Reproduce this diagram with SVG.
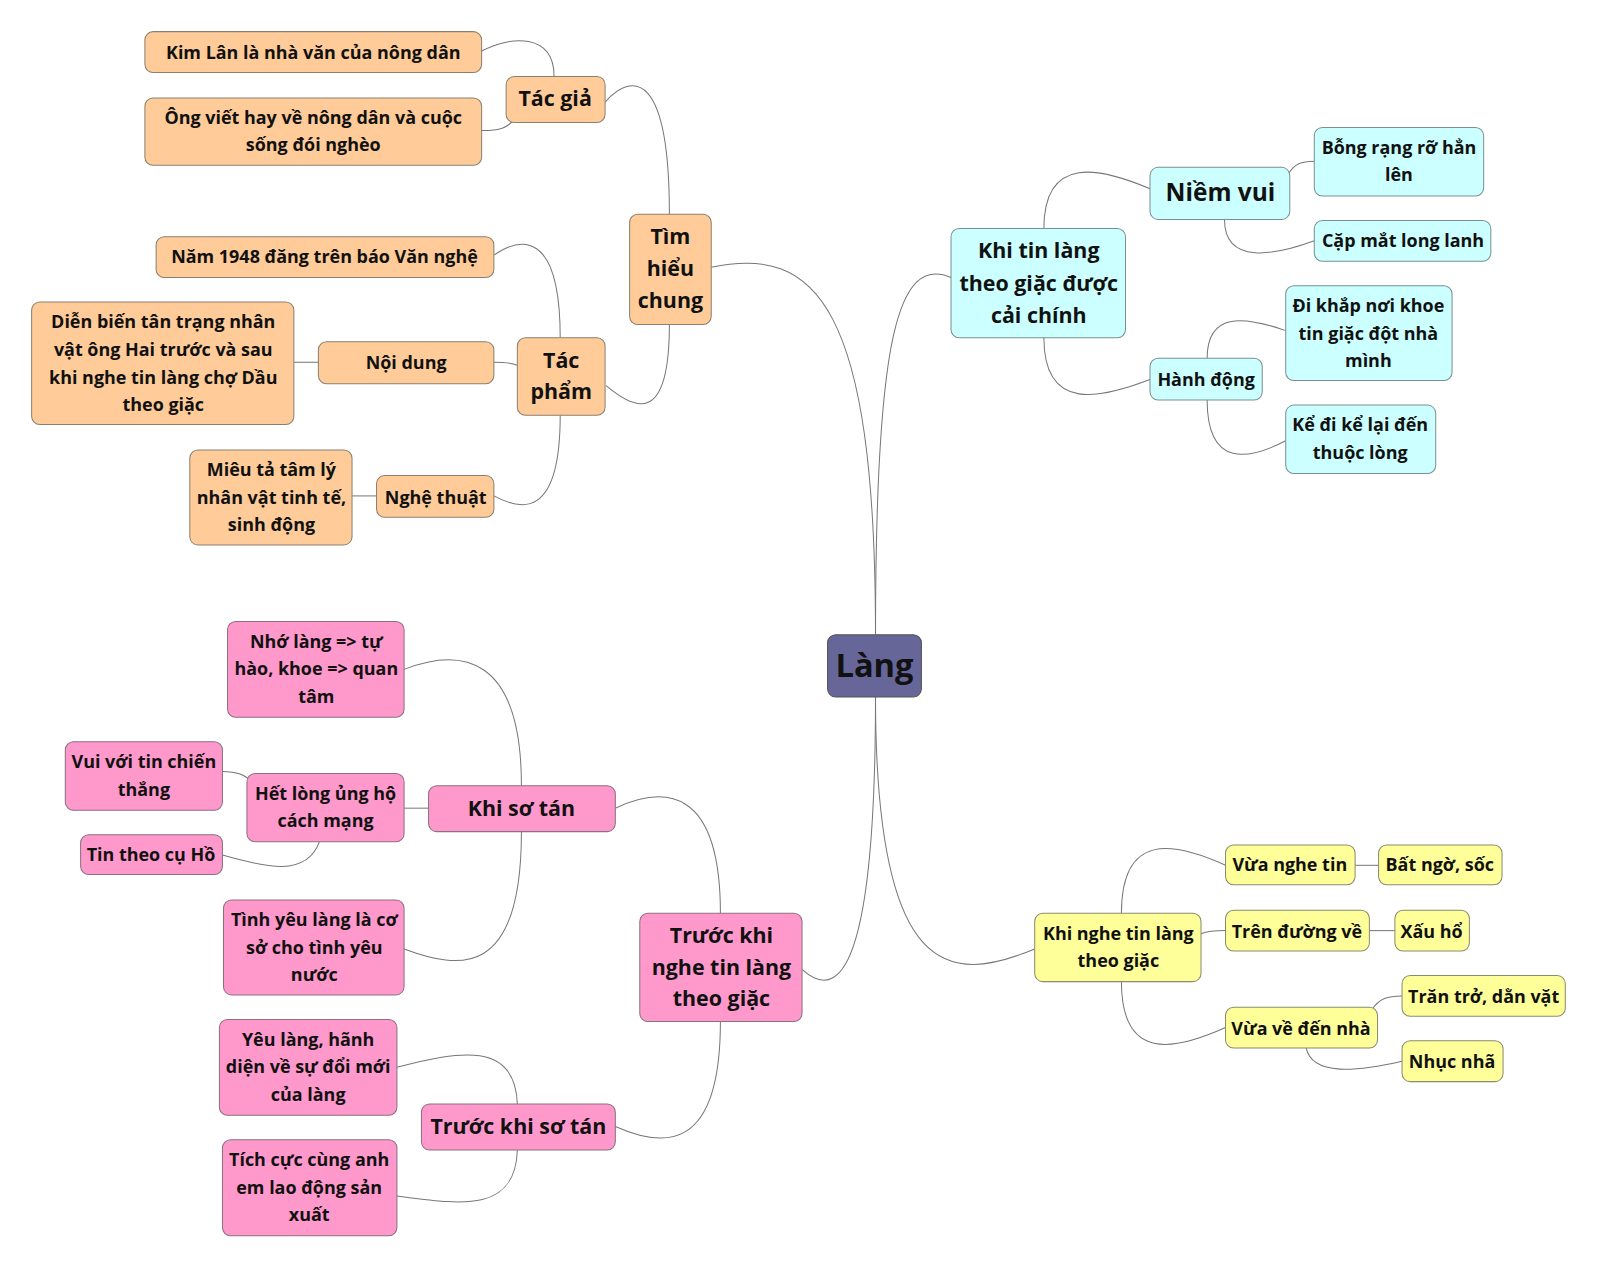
<svg xmlns="http://www.w3.org/2000/svg" width="1600" height="1269" viewBox="0 0 1600 1269">
<style>
text{font-family:"Open Sans","Noto Sans","DejaVu Sans",sans-serif;font-weight:700;fill:#111;text-anchor:middle;dominant-baseline:central}
.o rect{fill:#FFCC99;stroke:#8a8070;stroke-width:1}
.c rect{fill:#CCFFFF;stroke:#7a9090;stroke-width:1}
.y rect{fill:#FFFF99;stroke:#8a8a70;stroke-width:1}
.p rect{fill:#FF99CC;stroke:#8a7080;stroke-width:1}
.r rect{fill:#666699;stroke:#555;stroke-width:1}
.s16 text{font-size:17.6px}
.s20 text{font-size:21px}
.s24 text{font-size:24px}
#links path{fill:none;stroke:#777;stroke-width:1}
</style>
<rect width="1600" height="1269" fill="#fff"/>
<g transform="scale(1.020408)">
<g id="links">
<path d="M858,622 C858,300 800,240 697,262"/>
<path d="M858,622 C858,330 880,250 932,272"/>
<path d="M858,683 C858,920 830,990 786,950"/>
<path d="M858,683 C858,960 930,965 1014,930"/>
<path d="M656,210 C656,70 620,70 593,100"/>
<path d="M656,318 C656,420 620,400 594,378"/>
<path d="M543,75 C543,32 500,35 472,50"/>
<path d="M506,113 C500,126 488,128 472,128"/>
<path d="M549,331 C549,225 510,232 484,250"/>
<path d="M507,358 C500,355 492,355 484,355"/>
<path d="M549,407 C549,510 510,500 484,486"/>
<path d="M312,355 L288,355"/>
<path d="M369,486 L345,486"/>
<path d="M1023,224 C1023,150 1080,165 1127,185"/>
<path d="M1023,331 C1023,405 1080,390 1127,372"/>
<path d="M1262,172 C1268,160 1276,158 1288,158"/>
<path d="M1200,215 C1200,260 1250,250 1288,236"/>
<path d="M1183,351 C1183,305 1220,310 1260,324"/>
<path d="M1183,392 C1183,460 1225,450 1260,432"/>
<path d="M1099,895 C1099,815 1150,825 1201,848"/>
<path d="M1177,915 C1185,912 1192,912 1201,912"/>
<path d="M1099,962 C1099,1040 1150,1030 1201,1007"/>
<path d="M1328,848 L1351,848"/>
<path d="M1342,912 L1367,912"/>
<path d="M1344,990 C1352,978 1360,976 1374,976"/>
<path d="M1280,1027 C1286,1055 1330,1050 1374,1040"/>
<path d="M706,895 C706,770 650,770 603,792"/>
<path d="M706,1001 C706,1130 650,1125 603,1104"/>
<path d="M511,770 C511,640 450,635 396,656"/>
<path d="M420,792 L396,792"/>
<path d="M511,815 C511,960 450,950 396,930"/>
<path d="M246,766 C240,758 230,756 218,756"/>
<path d="M313,825 C300,860 260,850 218,838"/>
<path d="M507,1082 C505,1020 450,1030 389,1046"/>
<path d="M507,1127 C505,1190 450,1180 389,1172"/>
</g>

<g id="lang" class="r"><rect x="811" y="622" width="92" height="61" rx="8"/><text x="857" y="651" style="font-size:32px">Làng</text></g>

<g id="timhieu" class="o s20"><rect x="617" y="210" width="80" height="108" rx="8"/><text x="657" y="231">Tìm</text><text x="657" y="262">hiểu</text><text x="657" y="294">chung</text></g>
<g id="tacgia" class="o s20"><rect x="496" y="75" width="97" height="45" rx="8"/><text x="544" y="96">Tác giả</text></g>
<g id="kimlan" class="o s16"><rect x="142" y="31" width="330" height="40" rx="8"/><text x="307" y="51">Kim Lân là nhà văn của nông dân</text></g>
<g id="ongviet" class="o s16"><rect x="142" y="96" width="330" height="66" rx="8"/><text x="307" y="115">Ông viết hay về nông dân và cuộc</text><text x="307" y="141">sống đói nghèo</text></g>
<g id="tacpham" class="o s20"><rect x="507" y="331" width="86" height="76" rx="8"/><text x="550" y="352">Tác</text><text x="550" y="383">phẩm</text></g>
<g id="nam1948" class="o s16"><rect x="153" y="232" width="331" height="40" rx="8"/><text x="318" y="251">Năm 1948 đăng trên báo Văn nghệ</text></g>
<g id="noidung" class="o s16"><rect x="312" y="335" width="172" height="41" rx="8"/><text x="398" y="355">Nội dung</text></g>
<g id="dienbien" class="o s16"><rect x="31" y="296" width="257" height="120" rx="8"/><text x="160" y="315">Diễn biến tân trạng nhân</text><text x="160" y="342">vật ông Hai trước và sau</text><text x="160" y="369">khi nghe tin làng chợ Dầu</text><text x="160" y="396">theo giặc</text></g>
<g id="nghethuat" class="o s16"><rect x="369" y="466" width="115" height="41" rx="8"/><text x="427" y="487">Nghệ thuật</text></g>
<g id="mieuta" class="o s16"><rect x="186" y="441" width="159" height="93" rx="8"/><text x="266" y="460">Miêu tả tâm lý</text><text x="266" y="487">nhân vật tinh tế,</text><text x="266" y="514">sinh động</text></g>

<g id="khitin" class="c s20"><rect x="932" y="224" width="171" height="107" rx="8"/><text x="1018" y="245">Khi tin làng</text><text x="1018" y="277">theo giặc được</text><text x="1018" y="308">cải chính</text></g>
<g id="niemvui" class="c s24"><rect x="1127" y="164" width="137" height="51" rx="8"/><text x="1196" y="188">Niềm vui</text></g>
<g id="bongrang" class="c s16"><rect x="1288" y="125" width="166" height="67" rx="8"/><text x="1371" y="144">Bỗng rạng rỡ hẳn</text><text x="1371" y="171">lên</text></g>
<g id="capmat" class="c s16"><rect x="1288" y="216" width="173" height="40" rx="8"/><text x="1375" y="235">Cặp mắt long lanh</text></g>
<g id="hanhdong" class="c s16"><rect x="1127" y="351" width="110" height="41" rx="8"/><text x="1182" y="371">Hành động</text></g>
<g id="dikhap" class="c s16"><rect x="1260" y="280" width="163" height="93" rx="8"/><text x="1341" y="299">Đi khắp nơi khoe</text><text x="1341" y="326">tin giặc đột nhà</text><text x="1341" y="353">mình</text></g>
<g id="kedi" class="c s16"><rect x="1260" y="397" width="147" height="67" rx="8"/><text x="1333" y="416">Kể đi kể lại đến</text><text x="1333" y="443">thuộc lòng</text></g>

<g id="khinghe" class="y s16"><rect x="1014" y="895" width="163" height="67" rx="8"/><text x="1096" y="914">Khi nghe tin làng</text><text x="1096" y="941">theo giặc</text></g>
<g id="vuanghe" class="y s16"><rect x="1201" y="828" width="127" height="39" rx="8"/><text x="1264" y="847">Vừa nghe tin</text></g>
<g id="batngo" class="y s16"><rect x="1351" y="828" width="121" height="39" rx="8"/><text x="1411" y="847">Bất ngờ, sốc</text></g>
<g id="trenduong" class="y s16"><rect x="1201" y="892" width="141" height="40" rx="8"/><text x="1271" y="912">Trên đường về</text></g>
<g id="xauho" class="y s16"><rect x="1367" y="892" width="73" height="40" rx="8"/><text x="1403" y="912">Xấu hổ</text></g>
<g id="vuave" class="y s16"><rect x="1201" y="987" width="149" height="40" rx="8"/><text x="1275" y="1007">Vừa về đến nhà</text></g>
<g id="trantro" class="y s16"><rect x="1374" y="956" width="160" height="40" rx="8"/><text x="1454" y="976">Trăn trở, dằn vặt</text></g>
<g id="nhucnha" class="y s16"><rect x="1374" y="1020" width="99" height="40" rx="8"/><text x="1423" y="1040">Nhục nhã</text></g>

<g id="truockhinghe" class="p s20"><rect x="627" y="895" width="159" height="106" rx="8"/><text x="707" y="916">Trước khi</text><text x="707" y="947">nghe tin làng</text><text x="707" y="978">theo giặc</text></g>
<g id="khisotan" class="p s20"><rect x="420" y="770" width="183" height="45" rx="8"/><text x="511" y="791">Khi sơ tán</text></g>
<g id="nholang" class="p s16"><rect x="223" y="609" width="173" height="94" rx="8"/><text x="310" y="628">Nhớ làng =&gt; tự</text><text x="310" y="655">hào, khoe =&gt; quan</text><text x="310" y="682">tâm</text></g>
<g id="hetlong" class="p s16"><rect x="242" y="758" width="154" height="67" rx="8"/><text x="319" y="777">Hết lòng ủng hộ</text><text x="319" y="804">cách mạng</text></g>
<g id="vuivoi" class="p s16"><rect x="64" y="727" width="154" height="67" rx="8"/><text x="141" y="746">Vui với tin chiến</text><text x="141" y="773">thắng</text></g>
<g id="tintheo" class="p s16"><rect x="79" y="818" width="139" height="39" rx="8"/><text x="148" y="837">Tin theo cụ Hồ</text></g>
<g id="tinhyeu" class="p s16"><rect x="219" y="882" width="177" height="93" rx="8"/><text x="308" y="901">Tình yêu làng là cơ</text><text x="308" y="928">sở cho tình yêu</text><text x="308" y="955">nước</text></g>
<g id="truockhisotan" class="p s20"><rect x="413" y="1082" width="190" height="45" rx="8"/><text x="508" y="1103">Trước khi sơ tán</text></g>
<g id="yeulang" class="p s16"><rect x="215" y="999" width="174" height="94" rx="8"/><text x="302" y="1018">Yêu làng, hãnh</text><text x="302" y="1045">diện về sự đổi mới</text><text x="302" y="1072">của làng</text></g>
<g id="tichcuc" class="p s16"><rect x="218" y="1117" width="171" height="94" rx="8"/><text x="303" y="1136">Tích cực cùng anh</text><text x="303" y="1163">em lao động sản</text><text x="303" y="1190">xuất</text></g>
</g>
</svg>
